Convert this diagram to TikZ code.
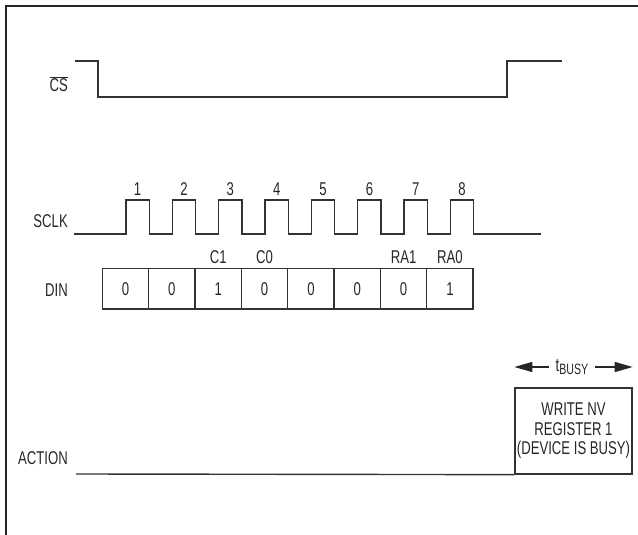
\documentclass[tikz,border=0pt]{standalone}
\usepackage{fontspec}
\setmainfont{Liberation Sans}[FakeStretch=0.71]
\usetikzlibrary{arrows.meta}
\begin{document}
\begin{tikzpicture}[x=1pt,y=-1pt]
\tikzset{
  lbl/.style={font=\fontsize{18.5}{19.5}\selectfont, inner sep=0pt, text=black!85},
  sig/.style={line width=1.4pt, draw=black!80},
  cell/.style={lbl, draw=black!80, line width=1.3pt, minimum width=46.35pt, minimum height=40.7pt},
  busyarrow/.style={line width=1.4pt, draw=black!85, -{Triangle[length=18pt,width=10pt]}},
}
\useasboundingbox (0,0) rectangle (638,535);
% frame
\draw[line width=2pt, black!85] (6,535) -- (6,6) -- (638,6);
% CS
\node[lbl, anchor=east] (cs) at (68,84) {$\overline{\hbox{CS}}$};
\draw[sig] (75,61) -- (98,61) -- (98,97) -- (507,97) -- (507,61) -- (562,61);
% SCLK
\node[lbl, anchor=east] (sclk) at (68,221) {SCLK};
\draw[sig] (74,234) foreach \i in {0,...,7} { -- ({126+46.35*\i},234) -- ({126+46.35*\i},200) -- ({149.3+46.35*\i},200) -- ({149.3+46.35*\i},234) } -- (541,234);
\foreach \i in {1,...,8} {
  \node[lbl] (n\i) at ({137.65+46.35*(\i-1)},189) {\i};
}
% DIN
\node[lbl, anchor=east] (din) at (68,290) {DIN};
\foreach \b [count=\i from 0] in {0,0,1,0,0,0,0,1} {
  \node[cell] (c\i) at ({125.5+46.35*\i},288.7) {\b};
}
\node[lbl] (lc1) at ({125.5+46.35*2},257) {C1};
\node[lbl] (lc0) at ({125.5+46.35*3},257) {C0};
\node[lbl] (lra1) at ({125.5+46.35*6},257) {RA1};
\node[lbl] (lra0) at ({125.5+46.35*7},257) {RA0};
% ACTION
\node[lbl, anchor=east] (action) at (68,458) {ACTION};
\node[lbl, draw=black!80, line width=1.3pt, minimum width=117pt, minimum height=86pt, align=center] (busy) at (573.5,431) {WRITE NV\\REGISTER 1\\(DEVICE IS BUSY)};
\coordinate (astart) at (76,474);
\draw[sig] (astart) -- (busy.south west);
% tBUSY
\node[lbl] (tbusy) at (572,367) {t\raisebox{-3pt}{\fontsize{15}{15}\selectfont BUSY}};
\coordinate (tl) at (busy.west |- tbusy);
\coordinate (tr) at (busy.east |- tbusy);
\draw[busyarrow] ([xshift=-6pt]tbusy.west) -- (tl);
\draw[busyarrow] ([xshift=6pt]tbusy.east) -- (tr);
\end{tikzpicture}
\end{document}
